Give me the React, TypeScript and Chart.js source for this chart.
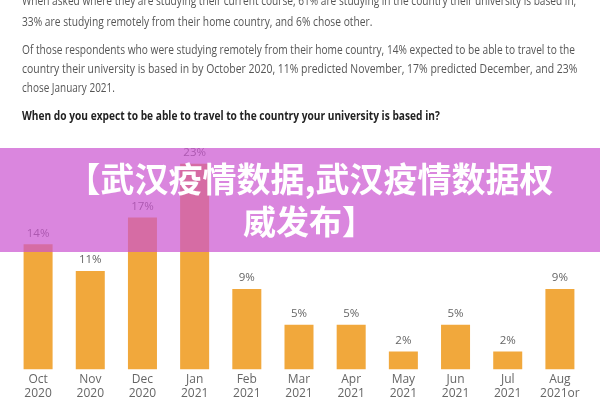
import React, { useEffect, useLayoutEffect, useRef, useState } from "react";
import { Chart, registerables } from "chart.js";

Chart.register(...registerables);

const categories: string[][] = [
  ["Oct", "2020"],
  ["Nov", "2020"],
  ["Dec", "2020"],
  ["Jan", "2021"],
  ["Feb", "2021"],
  ["Mar", "2021"],
  ["Apr", "2021"],
  ["May", "2021"],
  ["Jun", "2021"],
  ["Jul", "2021"],
  ["Aug", "2021or", "later"],
];
const percentages: number[] = [14, 11, 17, 23, 9, 5, 5, 2, 5, 2, 9];

const bodyLines: string[] = [
  "When asked where they are studying their current course, 61% are studying in the country their university is based in,",
  "33% are studying remotely from their home country, and 6% chose other.",
  "Of those respondents who were studying remotely from their home country, 14% expected to be able to travel to the",
  "country their university is based in by October 2020, 11% predicted November, 17% predicted December, and 23%",
  "chose January 2021.",
];
const heading = "When do you expect to be able to travel to the country your university is based in?";
const bannerLines: string[] = ["【武汉疫情数据,武汉疫情数据权", "威发布】"];

const BAR_COLOR = "#f1a83c";

function FitLine(props: { text: string; center: number; width: number; bold?: boolean }) {
  const { text, center, width, bold } = props;
  const ref = useRef<HTMLDivElement>(null);
  const [s, setS] = useState(1);
  useLayoutEffect(() => {
    const measure = () => {
      const el = ref.current;
      if (!el) return;
      const w = el.scrollWidth;
      if (w > 0) setS(width / w);
    };
    measure();
    if ((document as any).fonts && (document as any).fonts.ready) {
      (document as any).fonts.ready.then(measure);
    }
  }, [text, width]);
  return (
    <div
      ref={ref}
      style={{
        position: "absolute",
        left: 22,
        top: center - 8,
        height: 16,
        lineHeight: "16px",
        whiteSpace: "nowrap",
        fontFamily: "'Open Sans', sans-serif",
        fontSize: 12,
        fontWeight: bold ? 700 : 400,
        color: bold ? "#222" : "#555",
        transform: `scaleX(${s})`,
        transformOrigin: "left center",
      }}
    >
      {text}
    </div>
  );
}

const labelPlugin = {
  id: "barValueLabels",
  afterDatasetsDraw(chart: any) {
    const ctx = chart.ctx;
    const meta = chart.getDatasetMeta(0);
    ctx.save();
    ctx.font = "11.5px 'Open Sans', sans-serif";
    ctx.fillStyle = "#666";
    ctx.textAlign = "center";
    ctx.textBaseline = "middle";
    meta.data.forEach((bar: any, i: number) => {
      ctx.fillText(`${percentages[i]}%`, bar.x, bar.y - 11);
    });
    ctx.restore();
  },
};

export default function App() {
  const canvasRef = useRef<HTMLCanvasElement>(null);

  useEffect(() => {
    document.body.style.margin = "0";
    const canvas = canvasRef.current;
    if (!canvas) return;
    const chart = new Chart(canvas, {
      type: "bar",
      data: {
        labels: categories,
        datasets: [
          {
            data: percentages,
            backgroundColor: BAR_COLOR,
            borderWidth: 0,
            barPercentage: 0.556,
            categoryPercentage: 1,
          },
        ],
      },
      options: {
        responsive: false,
        animation: false,
        devicePixelRatio: 1,
        layout: { padding: { top: 146, left: 12, right: 14, bottom: 13 } },
        plugins: { legend: { display: false }, tooltip: { enabled: false } },
        scales: {
          y: { display: false, min: 0, max: 25 },
          x: {
            grid: { display: false, drawTicks: false },
            border: { display: false },
            ticks: {
              color: "#666",
              font: { family: "'Open Sans', sans-serif", size: 12, lineHeight: 1.1 },
              padding: 4,
              maxRotation: 0,
              minRotation: 0,
              autoSkip: false,
            },
          },
        },
      },
      plugins: [labelPlugin],
    });
    return () => chart.destroy();
  }, []);

  return (
    <div
      style={{
        position: "fixed",
        left: 0,
        top: 0,
        width: 600,
        height: 400,
        overflow: "hidden",
        background: "#fff",
      }}
    >
      <canvas ref={canvasRef} width={600} height={430} style={{ position: "absolute", left: 0, top: 0 }} />
      <FitLine text={bodyLines[0]} center={1} width={554} />
      <FitLine text={bodyLines[1]} center={22} width={350} />
      <FitLine text={bodyLines[2]} center={50} width={553} />
      <FitLine text={bodyLines[3]} center={69} width={555} />
      <FitLine text={bodyLines[4]} center={88} width={93} />
      <FitLine text={heading} center={116} width={418} bold />
      <div
        style={{
          position: "absolute",
          left: 0,
          top: 148,
          width: 600,
          height: 104,
          background: "rgba(202, 82, 208, 0.7)",
        }}
      />
      <div
        style={{
          position: "absolute",
          left: 310 - 300,
          top: 178 - 20,
          width: 600,
          height: 40,
          lineHeight: "40px",
          textAlign: "center",
          whiteSpace: "nowrap",
          color: "#fff",
          fontFamily: "'Noto Sans CJK SC', sans-serif",
          fontWeight: 700,
          fontSize: 34,
        }}
      >
        {bannerLines[0]}
      </div>
      <div
        style={{
          position: "absolute",
          left: 309 - 300,
          top: 220 - 20,
          width: 600,
          height: 40,
          lineHeight: "40px",
          textAlign: "center",
          whiteSpace: "nowrap",
          color: "#fff",
          fontFamily: "'Noto Sans CJK SC', sans-serif",
          fontWeight: 700,
          fontSize: 33,
        }}
      >
        {bannerLines[1]}
      </div>
    </div>
  );
}
